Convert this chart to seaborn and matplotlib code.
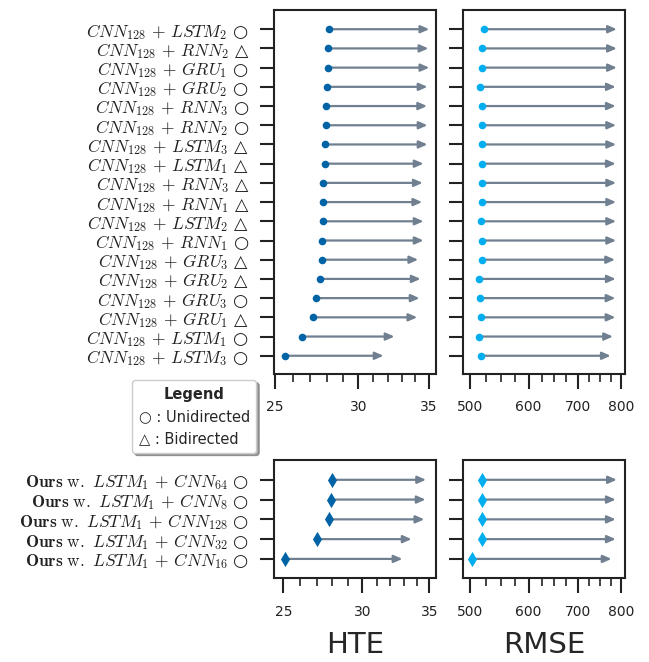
import numpy as np
import pandas as pd
import matplotlib
matplotlib.use("Agg")
import matplotlib.pyplot as plt
import seaborn as sns
from matplotlib.ticker import FixedLocator, FixedFormatter, NullFormatter
from matplotlib.lines import Line2D

# ---------------- data ----------------
top_labels = [
    r"$CNN_{128}\,+\,LSTM_2$ ○",
    r"$CNN_{128}\,+\,RNN_2$ △",
    r"$CNN_{128}\,+\,GRU_1$ ○",
    r"$CNN_{128}\,+\,GRU_2$ ○",
    r"$CNN_{128}\,+\,RNN_3$ ○",
    r"$CNN_{128}\,+\,RNN_2$ ○",
    r"$CNN_{128}\,+\,LSTM_3$ △",
    r"$CNN_{128}\,+\,LSTM_1$ △",
    r"$CNN_{128}\,+\,RNN_3$ △",
    r"$CNN_{128}\,+\,RNN_1$ △",
    r"$CNN_{128}\,+\,LSTM_2$ △",
    r"$CNN_{128}\,+\,RNN_1$ ○",
    r"$CNN_{128}\,+\,GRU_3$ △",
    r"$CNN_{128}\,+\,GRU_2$ △",
    r"$CNN_{128}\,+\,GRU_3$ ○",
    r"$CNN_{128}\,+\,GRU_1$ △",
    r"$CNN_{128}\,+\,LSTM_1$ ○",
    r"$CNN_{128}\,+\,LSTM_3$ ○",
]
top_hte_start = [28.12, 28.10, 28.05, 28.00, 27.97, 27.94, 27.90, 27.87, 27.80,
                 27.75, 27.75, 27.73, 27.71, 27.57, 27.38, 27.20, 26.50, 25.54]
top_hte_end = [35.04, 34.97, 35.04, 34.90, 34.87, 34.90, 34.90, 34.60, 34.54,
               34.50, 34.60, 34.60, 34.20, 34.38, 34.30, 34.13, 32.47, 31.70]
top_rmse_start = [522.0, 519.4, 519.4, 515.7, 519.0, 519.0, 518.5, 518.5, 518.5,
                  518.5, 517.0, 519.0, 518.5, 513.7, 516.3, 517.8, 513.7, 517.8]
top_rmse_end = [789.5, 789.5, 789.5, 786.7, 786.7, 787.6, 787.6, 786.7, 787.6,
                787.6, 787.6, 787.6, 785.0, 786.7, 786.0, 786.0, 780.0, 774.6]

bot_labels = [
    r"$\mathbf{Ours}\ \mathrm{w.}\ LSTM_1\,+\,CNN_{64}$ ○",
    r"$\mathbf{Ours}\ \mathrm{w.}\ LSTM_1\,+\,CNN_{8}$ ○",
    r"$\mathbf{Ours}\ \mathrm{w.}\ LSTM_1\,+\,CNN_{128}$ ○",
    r"$\mathbf{Ours}\ \mathrm{w.}\ LSTM_1\,+\,CNN_{32}$ ○",
    r"$\mathbf{Ours}\ \mathrm{w.}\ LSTM_1\,+\,CNN_{16}$ ○",
]
bot_hte_start = [27.99, 27.90, 27.80, 26.99, 25.10]
bot_hte_end = [34.74, 34.70, 34.60, 33.60, 32.90]
bot_rmse_start = [518.4, 518.4, 518.4, 518.4, 503.6]
bot_rmse_end = [789.5, 786.7, 786.7, 786.7, 776.5]

hte_major = [25, 30, 35]
hte_minor = [26, 27, 28, 29, 31, 32, 33, 34]
rmse_major = [500, 600, 700, 800]
rmse_minor = [525, 550, 575, 625, 650, 675, 725, 750, 775]

legend_labels = ["○ : Unidirected", "△ : Bidirected"]

# ---------------- style ----------------
sns.set_theme(style="ticks")
plt.rcParams.update({
    "font.family": ["DejaVu Sans"],
    "mathtext.fontset": "cm",
    "axes.edgecolor": "#222222",
    "axes.linewidth": 1.5,
    "xtick.color": "#222222",
    "ytick.color": "#222222",
    "xtick.labelcolor": "#222222",
    "ytick.labelcolor": "#222222",
})

HTE_COLOR = "#0063a6"
RMSE_COLOR = "#00aeef"
ARROW_COLOR = "#708090"

W, H = 649, 662
fig = plt.figure(figsize=(W / 100, H / 100), dpi=100)


def fa(x0, y0, x1, y1):
    return [x0 / W, 1 - y1 / H, (x1 - x0) / W, (y1 - y0) / H]


ax_th = fig.add_axes(fa(274, 10, 436, 374))
ax_tr = fig.add_axes(fa(463.3, 10, 625.3, 374))
ax_bh = fig.add_axes(fa(274, 460, 436, 578.3))
ax_br = fig.add_axes(fa(463.3, 460, 625.3, 578.3))

df_top = pd.DataFrame({"label": top_labels, "pos": np.arange(len(top_labels)),
                       "hte_s": top_hte_start, "hte_e": top_hte_end,
                       "rmse_s": top_rmse_start, "rmse_e": top_rmse_end})
df_bot = pd.DataFrame({"label": bot_labels, "pos": np.arange(len(bot_labels)),
                       "hte_s": bot_hte_start, "hte_e": bot_hte_end,
                       "rmse_s": bot_rmse_start, "rmse_e": bot_rmse_end})


def draw(ax, df, s, e, color, marker, size):
    for _, r in df.iterrows():
        ax.annotate("", xy=(r[e], r["pos"]), xytext=(r[s], r["pos"]),
                    arrowprops=dict(arrowstyle="-|>,head_length=0.5,head_width=0.22",
                                    color=ARROW_COLOR, lw=1.6, shrinkA=0, shrinkB=0,
                                    mutation_scale=10),
                    zorder=2)
    sns.scatterplot(data=df, x=s, y="pos", color=color, marker=marker, s=size,
                    linewidth=0, ax=ax, zorder=3, legend=False)


def style_x(ax, major, minor, lim):
    ax.set_xscale("log")
    ax.set_xlim(*lim)
    ax.xaxis.set_major_locator(FixedLocator(major))
    ax.xaxis.set_major_formatter(FixedFormatter([str(v) for v in major]))
    ax.xaxis.set_minor_locator(FixedLocator(minor))
    ax.xaxis.set_minor_formatter(NullFormatter())
    ax.tick_params(axis="x", which="major", length=11, width=1.5, pad=8, labelsize=10)
    ax.tick_params(axis="x", which="minor", length=5.5, width=1.2)
    ax.set_ylabel("")


draw(ax_th, df_top, "hte_s", "hte_e", HTE_COLOR, "o", 30)
draw(ax_tr, df_top, "rmse_s", "rmse_e", RMSE_COLOR, "o", 30)
draw(ax_bh, df_bot, "hte_s", "hte_e", HTE_COLOR, "d", 60)
draw(ax_br, df_bot, "rmse_s", "rmse_e", RMSE_COLOR, "d", 60)

style_x(ax_th, hte_major, hte_minor, (24.95, 35.56))
style_x(ax_tr, rmse_major, rmse_minor, (489.7, 810.6))
style_x(ax_bh, hte_major, hte_minor, (24.47, 35.55))
style_x(ax_br, rmse_major, rmse_minor, (489.7, 810.6))

for ax, df in [(ax_th, df_top), (ax_tr, df_top)]:
    ax.set_ylim(len(df) - 1 + 0.95, -1.0)
for ax, df in [(ax_bh, df_bot), (ax_br, df_bot)]:
    ax.set_ylim(len(df) - 1 + 0.98, -1.0)

for ax, df, show in [(ax_th, df_top, True), (ax_tr, df_top, False),
                     (ax_bh, df_bot, True), (ax_br, df_bot, False)]:
    ax.set_yticks(df["pos"])
    ax.set_yticklabels(df["label"] if show else [])
    ax.tick_params(axis="y", which="major", length=10, width=1.5, pad=8, labelsize=12.5)
    ax.tick_params(axis="y", which="minor", length=0)
    for sp in ax.spines.values():
        sp.set_visible(True)
        sp.set_linewidth(1.5)

ax_th.set_xlabel("")
ax_tr.set_xlabel("")
ax_bh.set_xlabel("HTE", fontsize=21, labelpad=9)
ax_br.set_xlabel("RMSE", fontsize=21, labelpad=9)

handles = [Line2D([], [], linestyle="none"), Line2D([], [], linestyle="none")]
leg = fig.legend(handles=handles, labels=legend_labels, title="Legend",
                 loc="upper left", bbox_to_anchor=(132 / W, 1 - 380 / H),
                 frameon=True, shadow=True, fancybox=True,
                 handlelength=0, handletextpad=0, fontsize=10.5,
                 title_fontproperties={"weight": "bold", "size": 10.5},
                 borderpad=0.45, labelspacing=0.5, borderaxespad=0)
leg.get_frame().set_edgecolor("#cccccc")

fig.savefig("out.png", dpi=100)
